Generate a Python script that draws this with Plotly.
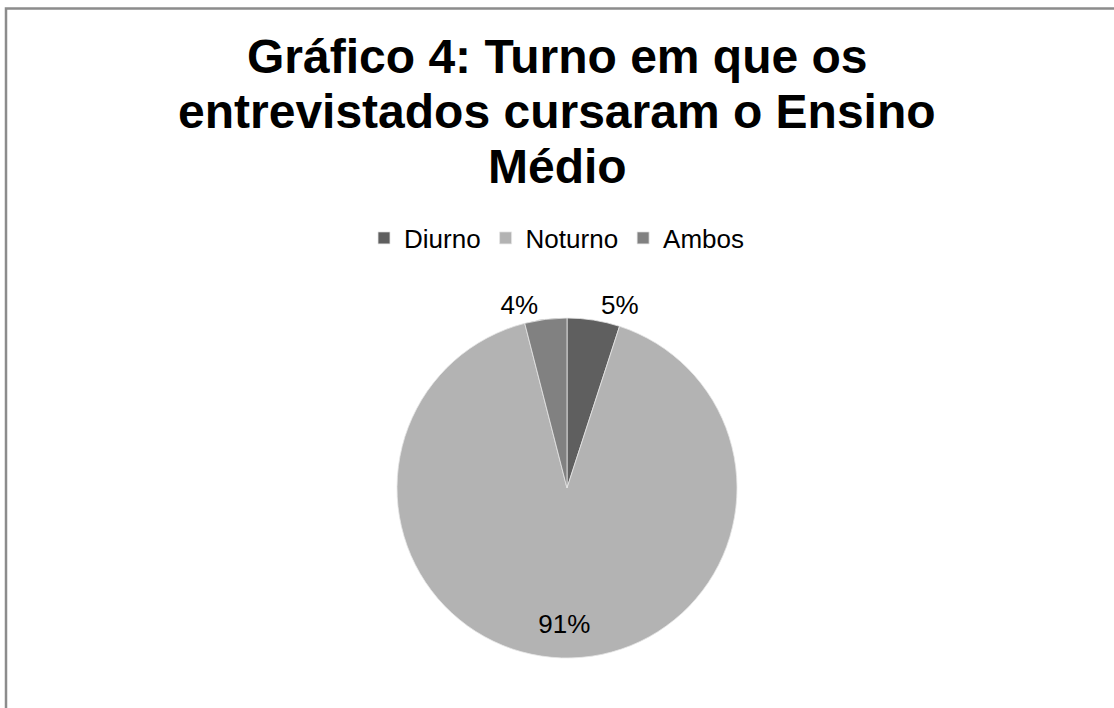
import plotly.graph_objects as go

categories = ["Diurno", "Noturno", "Ambos"]
values = [5, 91, 4]
colors = ["#5f5f5f", "#b3b3b3", "#818181"]
text_positions = ["outside", "inside", "outside"]
title_lines = ["Gráfico 4: Turno em que os", "entrevistados cursaram o Ensino", "Médio"]

W, H = 1114, 708
cx, cy, r = 567, 488, 170
FONT = "Liberation Sans, Arial, sans-serif"

NB = "\u00a0<br>"
templates = ["%{percent:.0%}", NB * 3 + "%{percent:.0%}", "%{percent:.0%}"]

fig = go.Figure(go.Pie(
    labels=categories,
    values=values,
    sort=False,
    direction="clockwise",
    rotation=0,
    marker=dict(colors=colors, line=dict(color="#e6e6e6", width=0.8)),
    texttemplate=templates,
    textposition=text_positions,
    insidetextorientation="horizontal",
    textfont=dict(family=FONT, size=26, color="#000000"),
    domain=dict(x=[(cx - r) / W, (cx + r) / W], y=[(H - cy - r) / H, (H - cy + r) / H]),
    hoverinfo="label+percent",
))

baselines = [73, 128, 183]
annotations = []
for line, b in zip(title_lines, baselines):
    annotations.append(dict(
        text="<b>" + line + "</b>", x=0.5, xref="paper", xanchor="center",
        y=1 - (b - 17) / H, yref="paper", yanchor="middle", showarrow=False,
        font=dict(family=FONT, size=48, color="#000000"),
    ))

fig.update_layout(
    width=W, height=H,
    margin=dict(l=0, r=0, t=0, b=0),
    paper_bgcolor="white",
    plot_bgcolor="white",
    annotations=annotations,
    legend=dict(
        orientation="h", x=0.5, xanchor="center", y=1 - 238 / H, yanchor="middle",
        font=dict(family=FONT, size=26, color="#000000"),
        itemwidth=30, traceorder="normal",
    ),
    shapes=[dict(type="rect", xref="paper", yref="paper",
                 x0=6 / W, x1=1.05, y0=-0.05, y1=1 - 8.5 / H,
                 line=dict(color="#8c8c8c", width=2.5), fillcolor="rgba(0,0,0,0)")],
)

fig.write_html("out.html")
